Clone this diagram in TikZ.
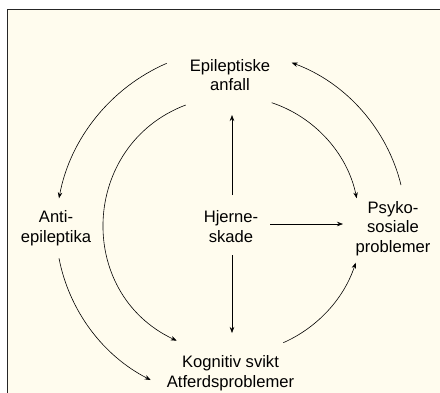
\documentclass[tikz,border=0pt]{standalone}
\usepackage{fontspec}
\setmainfont{Liberation Sans}
\usetikzlibrary{arrows.meta}
\definecolor{krem}{HTML}{FFFCEE}
\tikzset{
  tekst/.style={align=center, anchor=base, inner sep=0pt, font=\fontsize{16.6}{19.5}\selectfont},
  pil/.style={-{Stealth[length=6pt,width=4.5pt]}, line width=0.6pt},
}
\begin{document}
\begin{tikzpicture}[x=1pt, y=1pt]
  % ramme: hoyre og nedre kant faller utenfor bildet
  \useasboundingbox (0,0) rectangle (440,-392);
  \fill[white] (0,0) rectangle (440,-392);
  \filldraw[fill=krem, draw=black!85, line width=1.2pt] (7.6,-9.6) rectangle (480,-430);
  % tekster (plassert ved grunnlinjen til siste linje)
  \node[tekst] (ep) at (230,-90.8) {Epileptiske\\anfall};
  \node[tekst] (ae) at (56,-242.2) {Anti-\\epileptika};
  \node[tekst] (hj) at (231,-242.2) {Hjerne-\\skade};
  \node[tekst] (ps) at (393,-252.3) {Psyko-\\sosiale\\problemer};
  \node[tekst] (ko) at (230.5,-387.2) {Kognitiv svikt\\Atferdsproblemer};
  % endepunkter for pilene
  \coordinate (ep-ae1) at (166.7,-63.3);  \coordinate (ep-ae2) at (59,-198.3);
  \coordinate (ep-ko1) at (185.7,-105);   \coordinate (ep-ko2) at (176.7,-340.7);
  \coordinate (ep-ps1) at (271.7,-102.7); \coordinate (ep-ps2) at (356.7,-198.3);
  \coordinate (ps-ep1) at (401,-185);     \coordinate (ps-ep2) at (291.7,-62.7);
  \coordinate (ae-ko1) at (59,-258.3);    \coordinate (ae-ko2) at (150.7,-380);
  \coordinate (ko-ps1) at (283.3,-342.7); \coordinate (ko-ps2) at (355.7,-262.7);
  \coordinate (hj-n1) at (232,-195);      \coordinate (hj-n2) at (232,-115);
  \coordinate (hj-o1) at (270,-224);      \coordinate (hj-o2) at (343,-224);
  \coordinate (hj-s1) at (232,-255);      \coordinate (hj-s2) at (232,-333);
  % buer
  \draw[pil] (ep-ae1) to[bend right=28, looseness=0.9] (ep-ae2);
  \draw[pil] (ep-ko1) to[bend right=67, looseness=1.22] (ep-ko2);
  \draw[pil] (ep-ps1) to[bend left=30, looseness=0.91] (ep-ps2);
  \draw[pil] (ps-ep1) to[bend right=28, looseness=0.9] (ps-ep2);
  \draw[pil] (ae-ko1) to[bend right=26, looseness=0.9] (ae-ko2);
  \draw[pil] (ko-ps1) to[bend right=24, looseness=0.89] (ko-ps2);
  % rette piler fra hjerneskade
  \draw[pil] (hj-n1) -- (hj-n2);
  \draw[pil] (hj-o1) -- (hj-o2);
  \draw[pil] (hj-s1) -- (hj-s2);
\end{tikzpicture}
\end{document}
